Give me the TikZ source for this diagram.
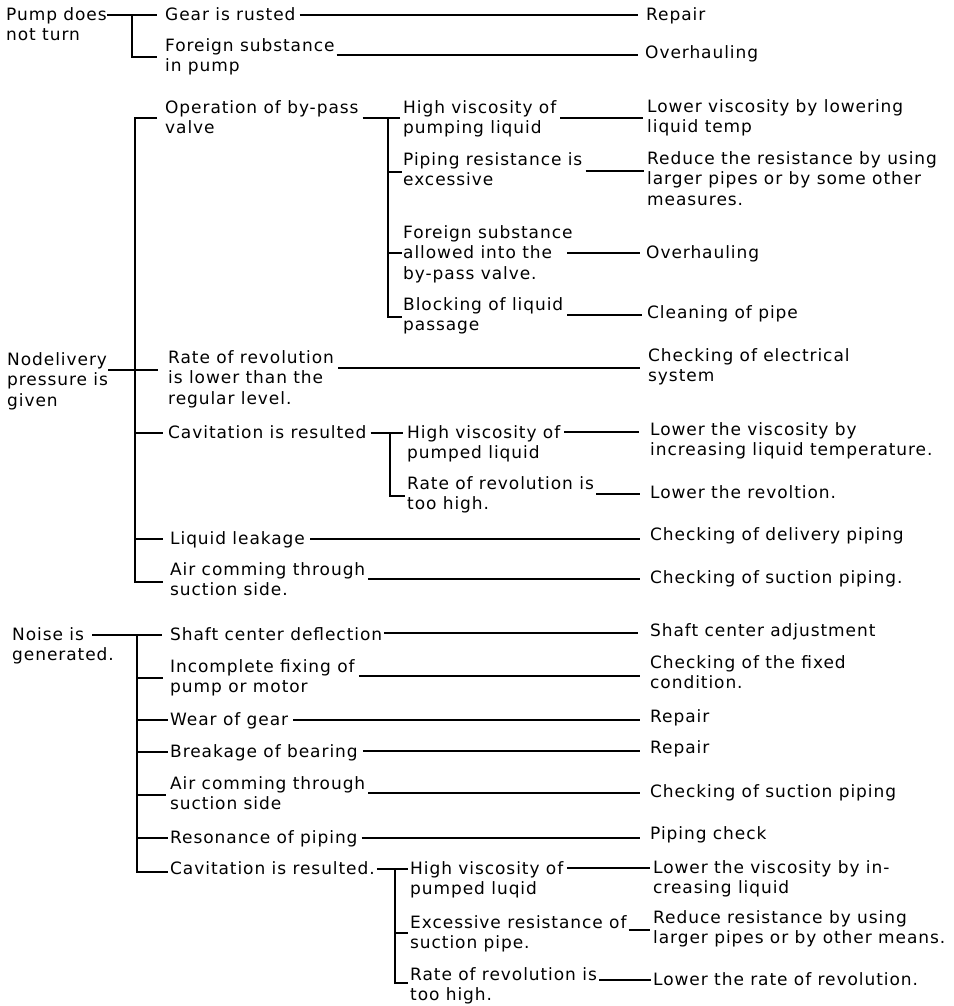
\documentclass[tikz,border=0pt]{standalone}
\usepackage{fontspec}
\setmainfont{DejaVu Sans}[LetterSpace=5.5]
\usetikzlibrary{calc}
\newcommand\fs{\rule{0pt}{14pt}}
\begin{document}
\begin{tikzpicture}[x=1pt,y=-1pt,
  tx/.style={anchor=north west,inner sep=0pt,align=left,font=\fontsize{17}{20.5}\selectfont},
  ln/.style={line width=1.3pt}]
\useasboundingbox[fill=white] (0,0) rectangle (953,1006);
% ---------- group 1
\node[tx] (p1) at (6,6) {\fs Pump does\\not turn};
\node[tx] (c1a) at (165,6) {\fs Gear is rusted};
\node[tx] (c1b) at (165,37) {\fs Foreign substance\\in pump};
\node[tx] (r1a) at (646,6) {\fs Repair};
\node[tx] (r1b) at (645,44) {\fs Overhauling};
\coordinate (s1t) at (132,15);
\coordinate (s1b) at (132,57);
\draw[ln] (p1.east|-s1t) -- ($(c1a.west|-s1t)+(-8,0)$);
\draw[ln] (s1t) -- (s1b) -- ($(c1b.west|-s1b)+(-8,0)$);
\draw[ln] ($(c1a.east|-0,15)+(4,0)$) -- ($(r1a.west|-0,15)+(-8,0)$);
\draw[ln] ($(c1b.east|-0,55)+(2,0)$) -- ($(r1b.west|-0,55)+(-7,0)$);
% ---------- group 2
\node[tx] (p2) at (7,351) {\fs Nodelivery\\pressure is\\given};
\node[tx] (c2a) at (165,99) {\fs Operation of by-pass\\valve};
\node[tx] (d1) at (403,99) {\fs High viscosity of\\pumping liquid};
\node[tx] (d2) at (403,151) {\fs Piping resistance is\\excessive};
\node[tx] (d3) at (403,224) {\fs Foreign substance\\allowed into the\\by-pass valve.};
\node[tx] (d4) at (403,296) {\fs Blocking of liquid\\passage};
\node[tx] (rd1) at (647,98) {\fs Lower viscosity by lowering\\liquid temp};
\node[tx] (rd2) at (647,150) {\fs Reduce the resistance by using\\larger pipes or by some other\\measures.};
\node[tx] (rd3) at (646,244) {\fs Overhauling};
\node[tx] (rd4) at (647,304) {\fs Cleaning of pipe};
\node[tx] (c2b) at (168,349) {\fs Rate of revolution\\is lower than the\\regular level.};
\node[tx] (rc2b) at (648,347) {\fs Checking of electrical\\system};
\node[tx] (c2c) at (168,424) {\fs Cavitation is resulted};
\node[tx] (e1) at (407,424) {\fs High viscosity of\\pumped liquid};
\node[tx] (e2) at (407,475) {\fs Rate of revolution is\\too high.};
\node[tx] (re1) at (650,421) {\fs Lower the viscosity by\\increasing liquid temperature.};
\node[tx] (re2) at (650,484) {\fs Lower the revoltion.};
\node[tx] (c2d) at (170,530) {\fs Liquid leakage};
\node[tx] (rc2d) at (650,526) {\fs Checking of delivery piping};
\node[tx] (c2e) at (170,561) {\fs Air comming through\\suction side.};
\node[tx] (rc2e) at (650,569) {\fs Checking of suction piping.};
\coordinate (s2t) at (135,118);
\coordinate (s2b) at (135,582);
\draw[ln] (p2.east|-0,370) -- ($(c2b.west|-0,370)+(-10,0)$);
\draw[ln] ($(c2a.west|-s2t)+(-8,0)$) -- (s2t) -- (s2b) -- ($(c2e.west|-s2b)+(-7,0)$);
\draw[ln] (135,433) -- ($(c2c.west|-0,433)+(-5,0)$);
\draw[ln] (135,539) -- ($(c2d.west|-0,539)+(-7,0)$);
% by-pass sub bracket
\coordinate (t1) at (388,118);
\coordinate (t2) at (388,317);
\draw[ln] ($(c2a.east|-t1)+(4,0)$) -- ($(d1.west|-t1)+(-3,0)$);
\draw[ln] (t1) -- (t2) -- ($(d4.west|-t2)+(-1,0)$);
\draw[ln] (388,172) -- ($(d2.west|-0,172)+(-1,0)$);
\draw[ln] (388,253) -- ($(d3.west|-0,253)+(-1,0)$);
\draw[ln] ($(d1.east|-0,118)+(4,0)$) -- ($(rd1.west|-0,118)+(-4,0)$);
\draw[ln] ($(d2.east|-0,171)+(3,0)$) -- ($(rd2.west|-0,171)+(-3,0)$);
\coordinate (d3e) at (567,253);
\draw[ln] (d3e) -- ($(rd3.west|-d3e)+(-6,0)$);
\draw[ln] ($(d4.east|-0,315)+(4,0)$) -- ($(rd4.west|-0,315)+(-5,0)$);
\draw[ln] ($(c2b.east|-0,368)+(4,0)$) -- ($(rc2b.west|-0,368)+(-8,0)$);
% cavitation sub bracket
\coordinate (u1) at (390,433);
\coordinate (u2) at (390,496);
\draw[ln] ($(c2c.east|-u1)+(4,0)$) -- ($(e1.west|-u1)+(-4,0)$);
\draw[ln] (u1) -- (u2) -- ($(e2.west|-u2)+(-2,0)$);
\draw[ln] ($(e1.east|-0,432)+(4,0)$) -- ($(re1.west|-0,432)+(-11,0)$);
\draw[ln] ($(e2.east|-0,494)+(2,0)$) -- ($(re2.west|-0,494)+(-10,0)$);
\draw[ln] ($(c2d.east|-0,539)+(5,0)$) -- ($(rc2d.west|-0,539)+(-10,0)$);
\draw[ln] ($(c2e.east|-0,579)+(3,0)$) -- ($(rc2e.west|-0,579)+(-10,0)$);
% ---------- group 3
\node[tx] (p3) at (12,626) {\fs Noise is\\generated.};
\node[tx] (f1) at (170,626) {\fs Shaft center deflection};
\node[tx] (f2) at (170,658) {\fs Incomplete fixing of\\pump or motor};
\node[tx] (f3) at (170,711) {\fs Wear of gear};
\node[tx] (f4) at (170,743) {\fs Breakage of bearing};
\node[tx] (f5) at (170,775) {\fs Air comming through\\suction side};
\node[tx] (f6) at (170,829) {\fs Resonance of piping};
\node[tx] (f7) at (170,860) {\fs Cavitation is resulted.};
\node[tx] (rf1) at (650,622) {\fs Shaft center adjustment};
\node[tx] (rf2) at (650,654) {\fs Checking of the fixed\\condition.};
\node[tx] (rf3) at (650,708) {\fs Repair};
\node[tx] (rf4) at (650,739) {\fs Repair};
\node[tx] (rf5) at (650,783) {\fs Checking of suction piping};
\node[tx] (rf6) at (650,825) {\fs Piping check};
\node[tx] (g1) at (410,860) {\fs High viscosity of\\pumped luqid};
\node[tx] (g2) at (410,914) {\fs Excessive resistance of\\suction pipe.};
\node[tx] (g3) at (410,966) {\fs Rate of revolution is\\too high.};
\node[tx] (rg1) at (653,859) {\fs Lower the viscosity by in-\\creasing liquid};
\node[tx] (rg2) at (653,909) {\fs Reduce resistance by using\\larger pipes or by other means.};
\node[tx] (rg3) at (653,971) {\fs Lower the rate of revolution.};
\coordinate (p3e) at (92,635);
\coordinate (s3t) at (137,635);
\coordinate (s3b) at (137,872);
\draw[ln] (p3e) -- ($(f1.west|-p3e)+(-8,0)$);
\draw[ln] (s3t) -- (s3b) -- ($(f7.west|-s3b)+(-2,0)$);
\draw[ln] (137,678) -- ($(f2.west|-0,678)+(-7,0)$);
\draw[ln] (137,720) -- ($(f3.west|-0,720)+(-2,0)$);
\draw[ln] (137,752) -- ($(f4.west|-0,752)+(-2,0)$);
\draw[ln] (137,795) -- ($(f5.west|-0,795)+(-4,0)$);
\draw[ln] (137,838) -- ($(f6.west|-0,838)+(-2,0)$);
\draw[ln] ($(f1.east|-0,633)+(2,0)$) -- ($(rf1.west|-0,633)+(-12,0)$);
\draw[ln] ($(f2.east|-0,676)+(4,0)$) -- ($(rf2.west|-0,676)+(-10,0)$);
\draw[ln] ($(f3.east|-0,720)+(5,0)$) -- ($(rf3.west|-0,720)+(-10,0)$);
\draw[ln] ($(f4.east|-0,751)+(5,0)$) -- ($(rf4.west|-0,751)+(-10,0)$);
\draw[ln] ($(f5.east|-0,793)+(3,0)$) -- ($(rf5.west|-0,793)+(-10,0)$);
\draw[ln] ($(f6.east|-0,838)+(4,0)$) -- ($(rf6.west|-0,838)+(-10,0)$);
% cavitation sub bracket (noise)
\coordinate (v1) at (395,869);
\coordinate (v2) at (395,983);
\draw[ln] ($(f7.east|-v1)+(2,0)$) -- ($(g1.west|-v1)+(-2,0)$);
\draw[ln] (v1) -- (v2) -- ($(g3.west|-v2)+(-2,0)$);
\draw[ln] (395,933) -- ($(g2.west|-0,933)+(-2,0)$);
\draw[ln] ($(g1.east|-0,868)+(4,0)$) -- ($(rg1.west|-0,868)+(-3,0)$);
\draw[ln] ($(g2.east|-0,930)+(2,0)$) -- ($(rg2.west|-0,930)+(-3,0)$);
\draw[ln] ($(g3.east|-0,980)+(2,0)$) -- ($(rg3.west|-0,980)+(-2,0)$);
\end{tikzpicture}
\end{document}
